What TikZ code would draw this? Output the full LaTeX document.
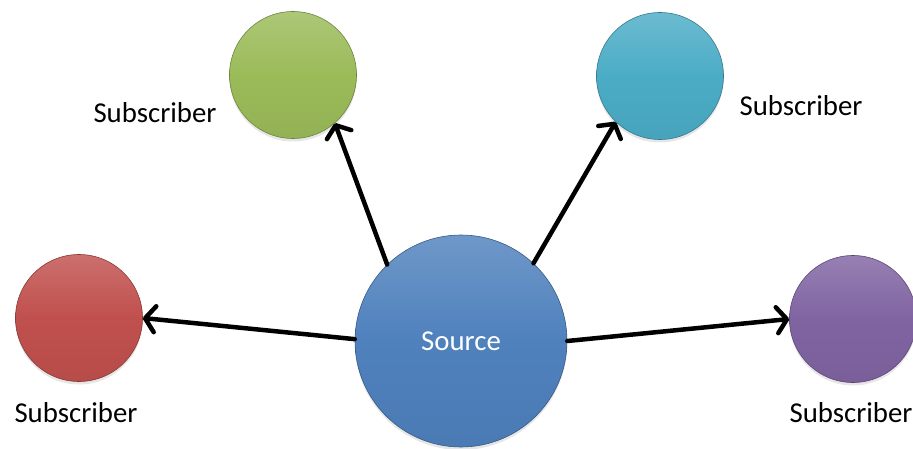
\documentclass[tikz,border=0pt]{standalone}
\usepackage{fontspec}
\setmainfont{Carlito}
\usetikzlibrary{arrows.meta,shadows}
\definecolor{cgreen}{HTML}{9BBB59}
\definecolor{ccyan}{HTML}{4BACC6}
\definecolor{cred}{HTML}{C0504D}
\definecolor{cpurple}{HTML}{8064A2}
\definecolor{cblue}{HTML}{4F81BD}
\tikzset{
  ballnode/.style={circle, inner sep=0pt, draw=#1!70!black, line width=0.6pt,
    top color=#1!82!white, bottom color=#1!95!black, middle color=#1,
    drop shadow={opacity=0.2, shadow xshift=0pt, shadow yshift=-3pt}},
  sub/.style={ballnode=#1, minimum size=127pt},
  lbl/.style={anchor=base, inner sep=0pt, font=\fontsize{28.8}{34}\selectfont, text=black},
  conn/.style={line width=4.5pt, line cap=round,
    -{Straight Barb[length=10pt,width=26pt,line cap=round,round]}}
}
\begin{document}
\begin{tikzpicture}[x=1pt,y=-1pt]
\useasboundingbox (0,0) rectangle (913,449);
\node[ballnode=cblue, minimum size=212pt, text=white, font=\fontsize{28.8}{34}\selectfont] (src) at (461,341) {Source};
\node[sub=cgreen] (g) at (293,75) {};
\node[sub=ccyan] (c) at (660,76) {};
\node[sub=cred] (r) at (79,318) {};
\node[sub=cpurple] (p) at (853,319) {};
\node[lbl] (lg) at (155,123) {Subscriber};
\node[lbl] (lc) at (801,116) {Subscriber};
\node[lbl] (lr) at (76,422) {Subscriber};
\node[lbl] (lp) at (851,422) {Subscriber};
\draw[conn] (src.134) -- (g.-49);
\draw[conn] (src.47) -- (c.226);
\draw[conn] (src.179.5) -- (r.0);
\draw[conn] (src.0.5) -- (p.180);
\end{tikzpicture}
\end{document}
